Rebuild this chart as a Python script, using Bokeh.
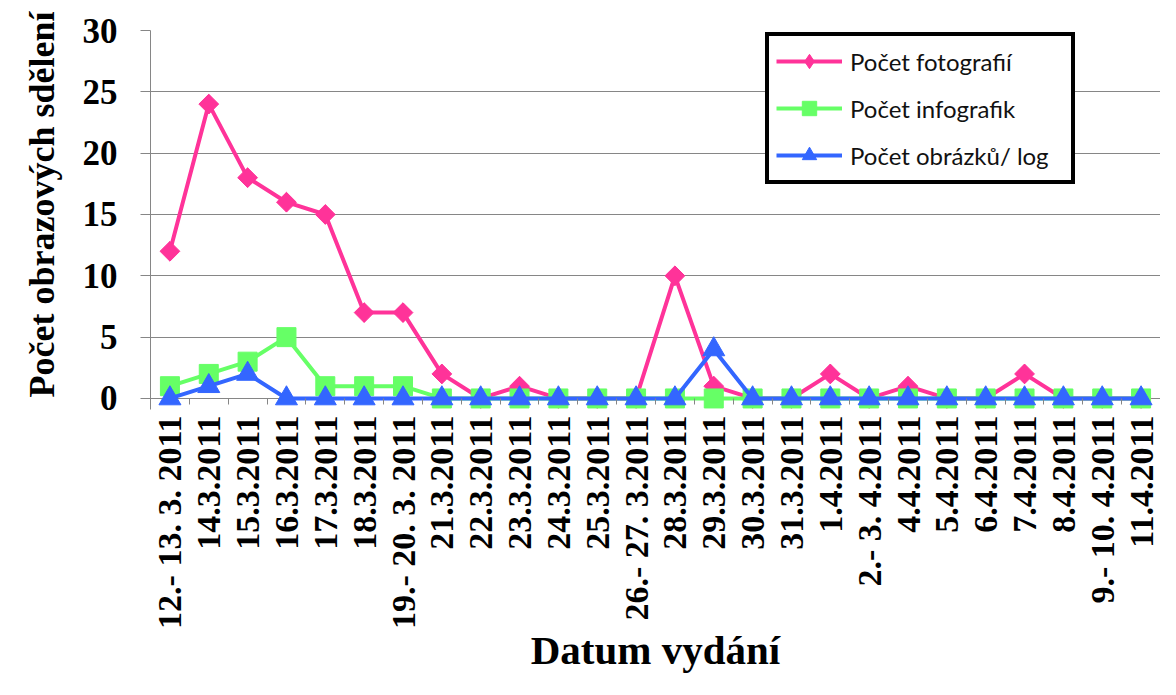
import math
from bokeh.plotting import figure
from bokeh.models import Range1d, FixedTicker, Legend, LegendItem, Title
from bokeh.embed import file_html
from bokeh.resources import INLINE

dates = ["12.- 13. 3. 2011", "14.3.2011", "15.3.2011", "16.3.2011", "17.3.2011",
         "18.3.2011", "19.- 20. 3. 2011", "21.3.2011", "22.3.2011", "23.3.2011",
         "24.3.2011", "25.3.2011", "26.- 27. 3.2011", "28.3.2011", "29.3.2011",
         "30.3.2011", "31.3.2011", "1.4.2011", "2.- 3. 4.2011", "4.4.2011",
         "5.4.2011", "6.4.2011", "7.4.2011", "8.4.2011", "9.- 10. 4.2011", "11.4.2011"]
fotografie = [12, 24, 18, 16, 15, 7, 7, 2, 0, 1, 0, 0, 0, 10, 1, 0, 0, 2, 0, 1, 0, 0, 2, 0, 0, 0]
infografiky = [1, 2, 3, 5, 1, 1, 1, 0, 0, 0, 0, 0, 0, 0, 0, 0, 0, 0, 0, 0, 0, 0, 0, 0, 0, 0]
obrazky = [0, 1, 2, 0, 0, 0, 0, 0, 0, 0, 0, 0, 0, 0, 4, 0, 0, 0, 0, 0, 0, 0, 0, 0, 0, 0]
y_ticks = [0, 5, 10, 15, 20, 25, 30]

xs = list(range(len(dates)))

p = figure(width=1160, height=679, output_backend="svg", toolbar_location=None,
           x_range=Range1d(-0.5, len(dates) - 0.5), y_range=Range1d(-0.9, 30),
           min_border_left=150, min_border_right=0, min_border_top=30,
           min_border_bottom=270)
p.outline_line_color = None
p.background_fill_color = "white"
p.border_fill_color = "white"

GRAY = "#868686"
SERIF = "Liberation Serif"

# X axis (baseline drawn by the y grid line at 0)
p.xaxis.ticker = FixedTicker(ticks=xs, minor_ticks=[i - 0.5 for i in range(len(dates) + 1)])
p.xaxis.major_label_overrides = {i: d for i, d in enumerate(dates)}
p.xaxis.major_label_orientation = math.pi / 2
p.xaxis.major_tick_out = 0
p.xaxis.major_tick_in = 0
p.xaxis.minor_tick_in = 11
p.xaxis.minor_tick_out = -5
p.xaxis.minor_tick_line_color = GRAY
p.xaxis.axis_line_color = None
p.xaxis.major_label_text_font = SERIF
p.xaxis.major_label_text_font_style = "bold"
p.xaxis.major_label_text_font_size = "34px"
p.xaxis.major_label_text_color = "black"
p.xaxis.major_label_standoff = 6
p.xaxis.axis_label = "Datum vydání"
p.xaxis.axis_label_text_font = SERIF
p.xaxis.axis_label_text_font_style = "bold"
p.xaxis.axis_label_text_font_size = "41px"
p.xaxis.axis_label_text_color = "black"
p.xaxis.axis_label_standoff = -5

# Y axis
p.yaxis.ticker = FixedTicker(ticks=y_ticks)
p.yaxis.major_tick_out = 10
p.yaxis.major_tick_in = 0
p.yaxis.major_tick_line_color = GRAY
p.yaxis.axis_line_color = GRAY
p.yaxis.major_label_text_font = SERIF
p.yaxis.major_label_text_font_style = "bold"
p.yaxis.major_label_text_font_size = "35px"
p.yaxis.major_label_text_color = "black"
p.yaxis.major_label_standoff = 23

p.add_layout(Title(text="Počet obrazových sdělení", align="left", offset=12,
                   standoff=36, text_font=SERIF, text_font_style="bold",
                   text_font_size="36px", text_color="black"), "left")

p.xgrid.grid_line_color = None
p.ygrid.grid_line_color = GRAY
p.ygrid.grid_line_width = 1

PINK = "#FF3399"
GREEN = "#66FF66"
BLUE = "#3366FF"

l1 = p.line(xs, fotografie, line_color=PINK, line_width=4)
# diamond glyph (used by the legend), covered by the rotated squares below
d1 = p.scatter(xs, fotografie, marker="diamond", size=19, fill_color=PINK, line_color=PINK)
m1 = p.scatter(xs, fotografie, marker="square", angle=math.pi / 4, size=14,
               fill_color=PINK, line_color=PINK)
l2 = p.line(xs, infografiky, line_color=GREEN, line_width=4)
m2 = p.scatter(xs, infografiky, marker="square", size=19,
               fill_color=GREEN, line_color=GREEN)
l3 = p.line(xs, obrazky, line_color=BLUE, line_width=4)
m3 = p.scatter(xs, obrazky, marker="triangle", size=22,
               fill_color=BLUE, line_color=BLUE)

legend = Legend(items=[
    LegendItem(label="Počet fotografií", renderers=[l1, d1]),
    LegendItem(label="Počet infografik", renderers=[l2, m2]),
    LegendItem(label="Počet obrázků/ log", renderers=[l3, m3]),
], location=(615, 225))
legend.border_line_color = "black"
legend.border_line_width = 4
legend.border_line_alpha = 1
legend.background_fill_color = "white"
legend.background_fill_alpha = 1
legend.label_text_font = "Lato"
legend.label_text_font_size = "24px"
legend.label_text_color = "#111111"
legend.glyph_width = 66
legend.glyph_height = 36
legend.label_height = 36
legend.label_width = 214
legend.spacing = 11
legend.padding = 7
legend.margin = 0
legend.label_standoff = 8
p.add_layout(legend, "center")

open("out.html", "w").write(file_html(p, INLINE))
